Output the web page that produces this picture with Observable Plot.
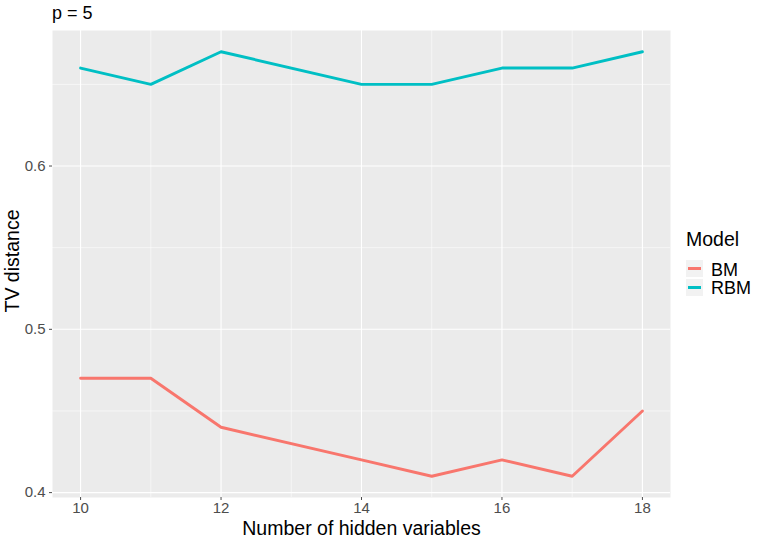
<!DOCTYPE html>
<html>
<head>
<meta charset="utf-8">
<script src="https://cdn.jsdelivr.net/npm/d3@7"></script>
<script src="https://cdn.jsdelivr.net/npm/@observablehq/plot@0.6"></script>
<style>
  body { margin: 0; background: #fff; font-family: "Liberation Sans", Arial, sans-serif; }
  #wrap { position: relative; width: 763px; height: 545px; }
  .abs { position: absolute; line-height: 1; white-space: nowrap; color: #000; }
  #title { left: 52px; top: 4px; font-size: 18px; }
  .key { position: absolute; width: 17px; height: 17px; background: #F2F2F2; }
  .key span { position: absolute; left: 2px; right: 2px; top: 7px; height: 3px; }
</style>
</head>
<body>
<div id="wrap">
  <div id="chart"></div>
  <div id="title" class="abs">p = 5</div>
  <div id="legend"></div>
</div>
<script>
const hidden = [10, 11, 12, 14, 15, 16, 17, 18];
const bmValues = [0.47, 0.47, 0.44, 0.42, 0.41, 0.42, 0.41, 0.45];
const rbmValues = [0.66, 0.65, 0.67, 0.65, 0.65, 0.66, 0.66, 0.67];
const models = ["BM", "RBM"];
const modelColors = ["#F8766D", "#00BFC4"];
const xTicks = [10, 12, 14, 16, 18];
const xMinor = [11, 13, 15, 17];
const yTicks = [0.4, 0.5, 0.6];
const yMinor = [0.45, 0.55, 0.65];

const rows = [];
hidden.forEach((h, i) => rows.push({hidden: h, tv: bmValues[i], model: "BM"}));
hidden.forEach((h, i) => rows.push({hidden: h, tv: rbmValues[i], model: "RBM"}));

const chart = Plot.plot({
  width: 763,
  height: 545,
  marginLeft: 52,
  marginRight: 93,
  marginTop: 30,
  marginBottom: 48,
  style: {fontFamily: '"Liberation Sans", Arial, sans-serif', background: "#fff"},
  x: {domain: [9.6, 18.4]},
  y: {domain: [0.397, 0.683]},
  color: {domain: models, range: modelColors},
  marks: [
    Plot.frame({fill: "#EBEBEB", stroke: null}),
    Plot.gridX(xMinor, {stroke: "#fff", strokeOpacity: 1, strokeWidth: 0.55}),
    Plot.gridY(yMinor, {stroke: "#fff", strokeOpacity: 1, strokeWidth: 0.55}),
    Plot.gridX(xTicks, {stroke: "#fff", strokeOpacity: 1, strokeWidth: 1.1}),
    Plot.gridY(yTicks, {stroke: "#fff", strokeOpacity: 1, strokeWidth: 1.1}),
    Plot.line(rows, {x: "hidden", y: "tv", stroke: "model", strokeWidth: 2.9, strokeLinejoin: "round"}),
    Plot.axisX({ticks: xTicks, tickSize: 3, tickPadding: 2, fontSize: 15, color: "#4D4D4D", label: null}),
    Plot.axisY({ticks: yTicks, tickSize: 3, tickPadding: 4, fontSize: 15, color: "#4D4D4D", label: null, tickFormat: d3.format(".1f")}),
    Plot.text(["Number of hidden variables"], {frameAnchor: "bottom", lineAnchor: "middle", textAnchor: "middle", dy: 31, fontSize: 19.5, fill: "#000"}),
    Plot.text(["TV distance"], {frameAnchor: "left", lineAnchor: "middle", textAnchor: "middle", dx: -40, dy: -3, rotate: -90, fontSize: 19.5, fill: "#000"})
  ]
});
document.getElementById("chart").appendChild(chart);

const legend = document.getElementById("legend");
let html = '<div class="abs" style="left:686px;top:229.5px;font-size:19.5px">Model</div>';
const textTops = [260.8, 279.1];
const keyTops = [259.5, 278.5];
models.forEach((m, i) => {
  html += `<div class="key" style="left:686px;top:${keyTops[i]}px"><span style="background:${modelColors[i]}"></span></div>`;
  html += `<div class="abs" style="left:711px;top:${textTops[i]}px;font-size:18px">${m}</div>`;
});
legend.innerHTML = html;
</script>
</body>
</html>
